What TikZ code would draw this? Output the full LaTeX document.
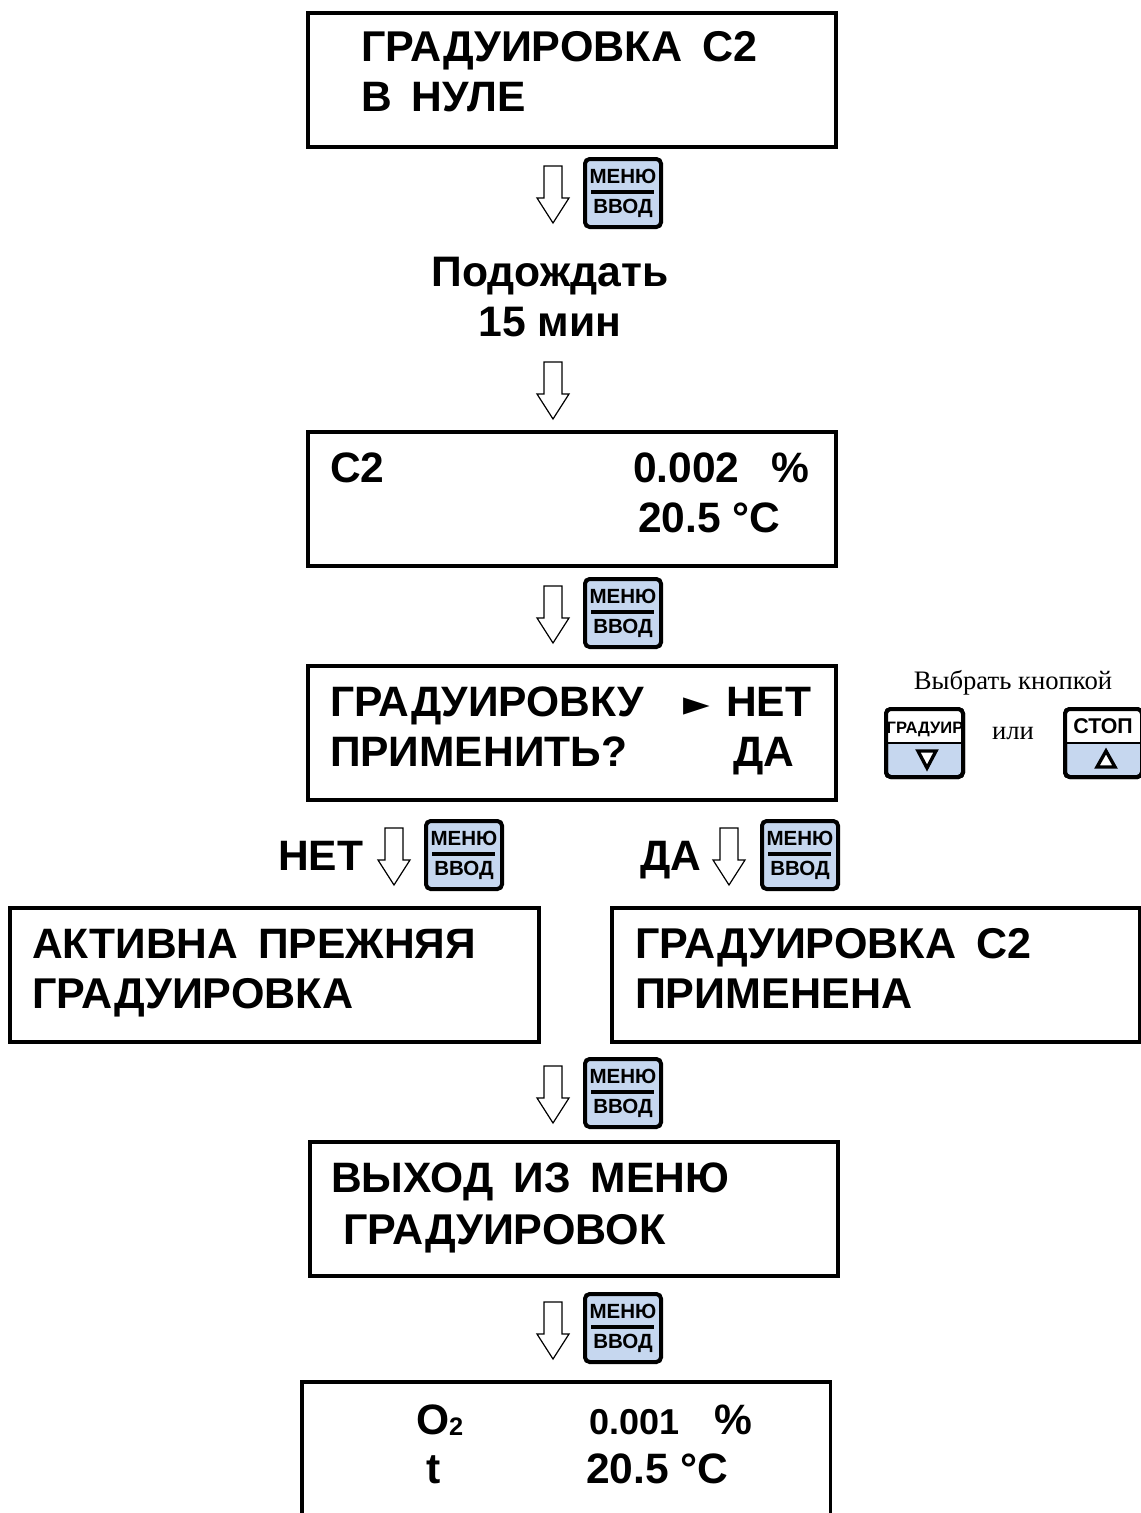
\documentclass[tikz,border=0pt]{standalone}
\usepackage{fontspec}
\setmainfont{Liberation Sans}
\newfontfamily\serifcyr{Liberation Serif}
\definecolor{btnblue}{HTML}{C6D7EF}
\newcommand{\gapw}{\hspace{15pt}}
\tikzset{
  x=0.75pt,y=-0.75pt,
  lcd/.style={draw=black,line width=2.6pt,fill=white,minimum width=396pt,minimum height=100.5pt,inner sep=0pt,outer sep=0pt},
  lab/.style={anchor=base west,inner sep=0pt,outer sep=0pt,font=\fontsize{31.9}{36}\selectfont\bfseries},
  labw/.style={lab,font=\fontsize{32.3}{36}\selectfont\bfseries},
  labc/.style={anchor=base,inner sep=0pt,outer sep=0pt,font=\fontsize{32}{36}\selectfont\bfseries},
  mid/.style={anchor=base west,inner sep=0pt,outer sep=0pt,font=\fontsize{27}{32}\selectfont\bfseries},
  note/.style={anchor=base,inner sep=0pt,outer sep=0pt,font=\fontsize{20}{22}\selectfont\serifcyr},
  blockarrow/.style={draw=black,line width=0.9pt,fill=white,line join=miter},
  btn/.style={draw=black,line width=3pt,rounded corners=3.5pt},
  btntext/.style={anchor=base,inner sep=0pt,outer sep=0pt,font=\fontsize{15.4}{17}\selectfont\bfseries},
  tri/.style={draw=black,line width=2.5pt,line join=miter,fill=white},
  pics/menuarrow/.style={code={
    \draw[blockarrow] (-9,0) -- (9,0) -- (9,32) -- (16,32) -- (0,57) -- (-16,32) -- (-9,32) -- cycle;
  }},
  pics/menubtn/.style={code={
    \draw[btn,fill=btnblue] (2,2) rectangle (78,70);
    \draw[black,line width=2.4pt] (8,35) -- (71,35);
    \node[btntext] (-m) at (40,26) {МЕНЮ};
    \node[btntext] (-v) at (40,56) {ВВОД};
  }},
}
\begin{document}
\begin{tikzpicture}
\useasboundingbox (0,0) rectangle (1140,1513);
% LCD boxes
\node[lcd] (b1) at (572,80) {};
\node[lcd] (b2) at (572,499) {};
\node[lcd] (b3) at (572,733) {};
\node[lcd,minimum width=397pt] (bl) at (274.5,975) {};
\node[lcd] (br) at (876,975) {};
\node[lcd] (b4) at (574,1209) {};
\draw[draw=black,line width=2.6pt] (302,1513) -- (302,1382) -- (830.5,1382) -- (830.5,1513);
% box texts
\node[labw] (t1a) at (361,62) {ГРАДУИРОВКА\gapw С2};
\node[lab] (t1b) at (361,112) {В\gapw НУЛЕ};
\node[labc] (wa) at (550,286) {Подождать};
\node[labc] (wb) at (550,336) {15 мин};
\node[lab] (t2a) at (330,482) {С2};
\node[lab] (t2b) at (633,482) {0.002};
\node[lab] (t2c) at (771,482) {\%};
\node[lab] (t2d) at (638,532) {20.5 °C};
\node[lab] (t3a) at (330,716) {ГРАДУИРОВКУ};
\node[anchor=base west,inner sep=0pt,font=\fontsize{26}{28}\selectfont] (t3m) at (683,715) {\fontspec{DejaVu Sans}►};
\node[lab] (t3b) at (726,716) {НЕТ};
\node[lab] (t3c) at (330,766) {ПРИМЕНИТЬ?};
\node[lab] (t3d) at (733,766) {ДА};
\node[lab] (ln) at (278,870) {НЕТ};
\node[lab] (ld) at (640,870) {ДА};
\node[lab] (tla) at (32,958) {АКТИВНА\gapw ПРЕЖНЯЯ};
\node[labw] (tlb) at (32,1008) {ГРАДУИРОВКА};
\node[labw] (tra) at (635,958) {ГРАДУИРОВКА\gapw С2};
\node[labw] (trb) at (635,1008) {ПРИМЕНЕНА};
\node[lab] (t4a) at (331,1192) {ВЫХОД\gapw ИЗ\gapw МЕНЮ};
\node[labw] (t4b) at (343,1244) {ГРАДУИРОВОК};
\node[lab] (t5a) at (416,1434) {O{\fontsize{19}{20}\selectfont\raisebox{-1pt}{2}}};
\node[mid] (t5b) at (589,1434) {0.001};
\node[lab] (t5c) at (714,1434) {\%};
\node[labc] (t5d) at (434,1483) {t};
\node[lab] (t5e) at (586,1483) {20.5 °C};
% arrows and buttons
\pic at (553,166) {menuarrow};
\pic (k1) at (583,157) {menubtn};
\pic at (553,362) {menuarrow};
\pic at (553,586) {menuarrow};
\pic (k2) at (583,577) {menubtn};
\pic at (394,828) {menuarrow};
\pic (k3) at (424,819) {menubtn};
\pic at (729,828) {menuarrow};
\pic (k4) at (760,819) {menubtn};
\pic at (553,1066) {menuarrow};
\pic (k5) at (583,1057) {menubtn};
\pic at (553,1302) {menuarrow};
\pic (k6) at (583,1292) {menubtn};
% selection note
\node[note] (sel) at (1013,689) {Выбрать кнопкой};
\node[note] (ili) at (1013,739) {или};
% small buttons
\draw[btn,fill=btnblue] (886,709) rectangle (963,777);
\fill[white,rounded corners=2pt] (887,710) rectangle (962,743);
\draw[black,line width=1pt] (886,743) -- (963,743);
\draw[btn] (886,709) rectangle (963,777);
\node[btntext,font=\fontsize{12.4}{15}\selectfont\bfseries] (kg) at (925,733) {ГРАДУИР};
\draw[tri] (918,751) -- (936,751) -- (927,768) -- cycle;
\draw[btn,fill=btnblue] (1065,709) rectangle (1142,777);
\fill[white,rounded corners=2pt] (1066,710) rectangle (1141,743);
\draw[black,line width=1pt] (1065,743) -- (1142,743);
\draw[btn] (1065,709) rectangle (1142,777);
\node[btntext,font=\fontsize{16}{17}\selectfont\bfseries] (ks) at (1103,733) {СТОП};
\draw[tri] (1097,767) -- (1115,767) -- (1106,751) -- cycle;
\end{tikzpicture}
\end{document}
